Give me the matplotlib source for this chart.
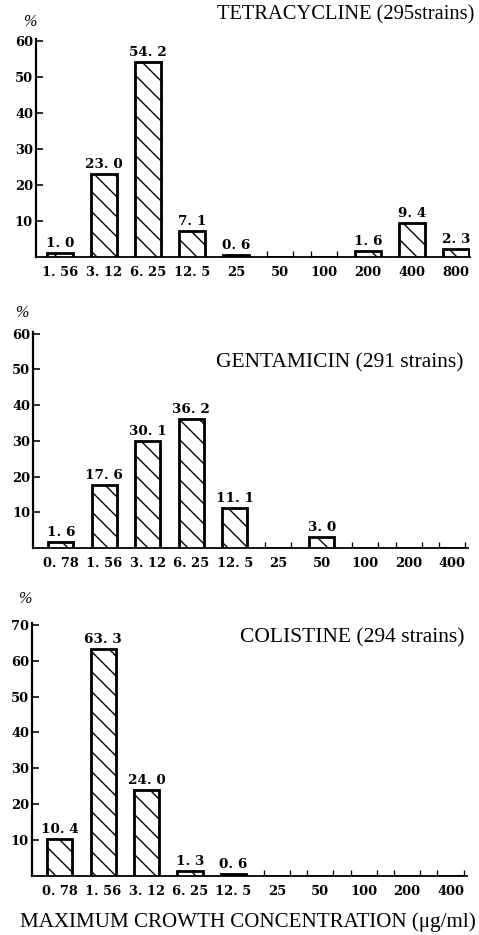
import matplotlib
matplotlib.use("Agg")
import matplotlib.pyplot as plt
from matplotlib.ticker import FixedLocator

# ---- data ----
tet_labels = ['1. 56', '3. 12', '6. 25', '12. 5', '25', '50', '100', '200', '400', '800']
tet_values = [1.0, 23.0, 54.2, 7.1, 0.6, 0, 0, 1.6, 9.4, 2.3]
tet_title = 'TETRACYCLINE (295strains)'

gen_labels = ['0. 78', '1. 56', '3. 12', '6. 25', '12. 5', '25', '50', '100', '200', '400']
gen_values = [1.6, 17.6, 30.1, 36.2, 11.1, 0, 3.0, 0, 0, 0]
gen_title = 'GENTAMICIN (291 strains)'

col_labels = ['0. 78', '1. 56', '3. 12', '6. 25', '12. 5', '25', '50', '100', '200', '400']
col_values = [10.4, 63.3, 24.0, 1.3, 0.6, 0, 0, 0, 0, 0]
col_title = 'COLISTINE (294 strains)'

yticks_60 = [10, 20, 30, 40, 50, 60]
yticks_70 = [10, 20, 30, 40, 50, 60, 70]
xlabel = 'MAXIMUM CROWTH CONCENTRATION (\u03bcg/ml)'

# ---- style ----
DPI = 60
P = 72.0 / DPI  # points per pixel

SERIF = ['Liberation Serif', 'DejaVu Serif']
NUM = ['DejaVu Serif']
plt.rcParams['font.family'] = SERIF
plt.rcParams['hatch.linewidth'] = 1.4 * P
plt.rcParams['hatch.color'] = 'black'

fig = plt.figure(figsize=(479 / DPI, 935 / DPI), dpi=DPI)
fig.patch.set_facecolor('white')

W, H = 479.0, 935.0


def panel(rect, labels, values, yticks, ymax, xlim):
    ax = fig.add_axes([rect[0] / W, rect[1] / H, rect[2] / W, rect[3] / H])
    x = list(range(len(values)))
    ax.bar(x, values, width=0.58, facecolor='white', edgecolor='black',
           linewidth=2.8 * P, hatch='\\', zorder=3)
    for xi, v in zip(x, values):
        if v > 0:
            txt = '{:.1f}'.format(v).replace('.', '. ')
            ax.annotate(txt, (xi, v), xytext=(0, 3 * P), textcoords='offset points',
                        ha='center', va='bottom', fontsize=13.5 * P, fontweight='bold',
                        family=NUM)
    ax.set_xlim(*xlim)
    ax.set_ylim(0, ymax)
    ax.set_xticks(x)
    ax.set_xticklabels(labels, fontsize=13 * P, fontweight='bold', family=NUM)
    ax.tick_params(axis='x', length=0, pad=9 * P)
    empty = [xi for xi, v in zip(x, values) if v == 0]
    minors = []
    for e in empty:
        minors += [e - 0.3, e + 0.3]
    ax.xaxis.set_minor_locator(FixedLocator(minors))
    ax.tick_params(axis='x', which='minor', direction='in', length=6 * P, width=1.3 * P)
    ax.set_yticks(yticks)
    ax.set_yticklabels([str(t) for t in yticks], fontsize=13 * P, fontweight='bold',
                       family=NUM)
    ax.tick_params(axis='y', direction='in', length=7 * P, width=1.6 * P, pad=3 * P)
    for s in ['top', 'right']:
        ax.spines[s].set_visible(False)
    ax.spines['left'].set_linewidth(2.2 * P)
    ax.spines['bottom'].set_linewidth(1.8 * P)
    return ax


ax1 = panel((36, 678, 434, 218), tet_labels, tet_values, yticks_60, 60.5, (-0.55, 9.32))
ax2 = panel((33, 387, 435, 216), gen_labels, gen_values, yticks_60, 60.5, (-0.64, 9.36))
ax3 = panel((32, 59, 435, 253), col_labels, col_values, yticks_70, 70.5, (-0.64, 9.38))

# titles
fig.text(474 / W, 1 - 15 / H, tet_title, ha='right', va='center', fontsize=20.5 * P)
fig.text(464 / W, 1 - 363 / H, gen_title, ha='right', va='center', fontsize=21.5 * P)
fig.text(464 / W, 1 - 638 / H, col_title, ha='right', va='center', fontsize=21.5 * P)

# percent signs
fig.text(30 / W, 1 - 22 / H, '%', ha='center', va='center', fontsize=16 * P, fontstyle='italic')
fig.text(22 / W, 1 - 313 / H, '%', ha='center', va='center', fontsize=16 * P, fontstyle='italic')
fig.text(25 / W, 1 - 599 / H, '%', ha='center', va='center', fontsize=16 * P, fontstyle='italic')

fig.text(248 / W, 1 - 922 / H, xlabel, ha='center', va='center', fontsize=21 * P)

fig.savefig('out.png', dpi=DPI, facecolor='white')
